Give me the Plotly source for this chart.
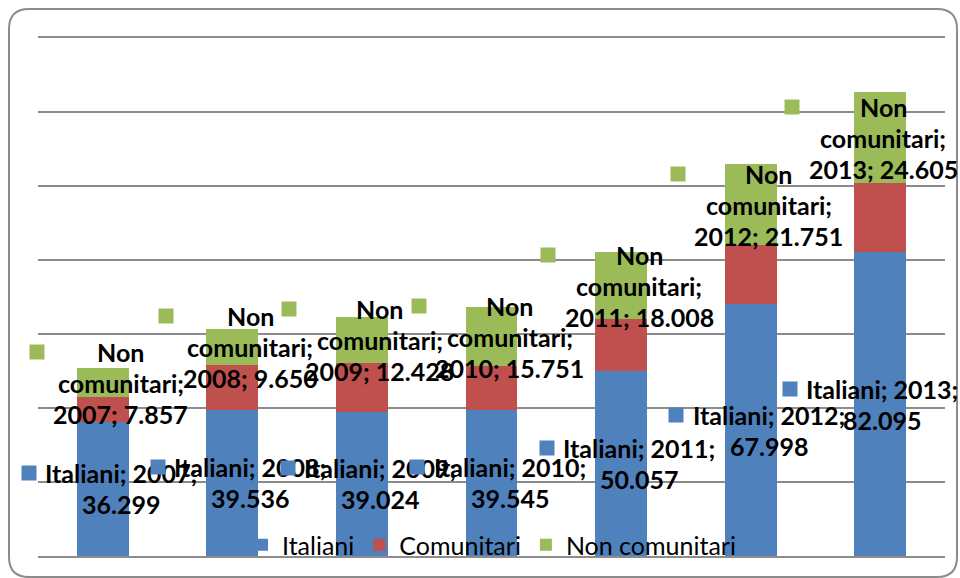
import plotly.graph_objects as go

# ---- data ----
years = ["2007", "2008", "2009", "2010", "2011", "2012", "2013"]
italiani = [36299, 39536, 39024, 39545, 50057, 67998, 82095]
comunitari = [6600, 12100, 13100, 11900, 14000, 16100, 18600]
non_comunitari = [7857, 9650, 12428, 15751, 18008, 21751, 24605]

series_names = ["Italiani", "Comunitari", "Non comunitari"]
colors = ["#4F81BD", "#C0504D", "#9BBB59"]

W, H = 960, 578
ML, MR, MT, MB = 38, 15, 38, 22
PW, PH = W - ML - MR, H - MT - MB

FONT = "Lato"
LBL_SIZE = 25
LINE = 31
GRID = "#8c8c8c"

fig = go.Figure()
for name, vals, col in zip(series_names, [italiani, comunitari, non_comunitari], colors):
    fig.add_trace(go.Bar(x=years, y=vals, name=name, marker=dict(color=col, line=dict(width=0)),
                         hoverinfo="skip"))

def fmt(v):
    return f"{v:,}".replace(",", ".")

cw = {c: 0.58 for c in "0123456789"}
cw.update({".": 0.25, ";": 0.27, " ": 0.2, "I": 0.29, "t": 0.37, "a": 0.51, "l": 0.25,
           "i": 0.25, "n": 0.57, "c": 0.47, "o": 0.57, "m": 0.86, "u": 0.57, "r": 0.39, "N": 0.74})

def text_w(s):
    return sum(cw.get(c, 0.55) for c in s) * LBL_SIZE * 0.94

annotations = []

def add_label(xi, ymid, lines, color):
    n = len(lines)
    w = max(text_w(l) for l in lines)
    center_px = ML + (xi + 0.5) * PW / len(years)
    xs = 18
    # keep the label inside the chart, as the original does
    xs = min(xs, W - 7 - w / 2 - center_px)
    for i, ln in enumerate(lines):
        annotations.append(dict(x=xi, y=ymid, xref="x", yref="y", text=f"<b>{ln}</b>",
                                showarrow=False, xshift=xs, yshift=(n - 1) / 2 * LINE - i * LINE,
                                font=dict(family=FONT, size=LBL_SIZE, color="black"),
                                xanchor="center", yanchor="middle"))
    annotations.append(dict(x=xi, y=ymid, xref="x", yref="y", text=" ", showarrow=False,
                            width=14, height=14, borderpad=0, bgcolor=color,
                            xshift=xs - w / 2 - 14 - 7, yshift=(n - 1) / 2 * LINE,
                            font=dict(size=4)))

for i, yr in enumerate(years):
    # category axis: annotation x is the category index
    add_label(i, italiani[i] / 2, [f"Italiani; {yr};", fmt(italiani[i])], colors[0])
    base = italiani[i] + comunitari[i]
    add_label(i, base + non_comunitari[i] / 2,
              ["Non", "comunitari;", f"{yr}; {fmt(non_comunitari[i])}"], colors[2])

# rounded border (pixel coords -> paper)
def px(xp):
    return (xp - ML) / PW

def py(yp):
    return (H - MB - yp) / PH

x0, y0, x1, y1, r = 9, 9, 957, 577, 20
path = (f"M{px(x0 + r)},{py(y0)} L{px(x1 - r)},{py(y0)} Q{px(x1)},{py(y0)} {px(x1)},{py(y0 + r)} "
        f"L{px(x1)},{py(y1 - r)} Q{px(x1)},{py(y1)} {px(x1 - r)},{py(y1)} "
        f"L{px(x0 + r)},{py(y1)} Q{px(x0)},{py(y1)} {px(x0)},{py(y1 - r)} "
        f"L{px(x0)},{py(y0 + r)} Q{px(x0)},{py(y0)} {px(x0 + r)},{py(y0)} Z")

fig.update_layout(
    width=W, height=H,
    margin=dict(l=ML, r=MR, t=MT, b=MB, pad=0, autoexpand=False),
    barmode="stack", bargap=0.6,
    plot_bgcolor="white", paper_bgcolor="white",
    font=dict(family=FONT),
    xaxis=dict(type="category", range=[-0.5, len(years) - 0.5], showticklabels=False,
               showgrid=False, zeroline=False, showline=True, mirror=True,
               linecolor=GRID, linewidth=2, ticks=""),
    yaxis=dict(range=[0, 140000], dtick=20000, showticklabels=False, showgrid=True,
               gridcolor=GRID, gridwidth=2, zeroline=False, showline=False, ticks=""),
    legend=dict(orientation="h", x=0.5, xanchor="center", y=(H - MB - 545) / PH, yanchor="middle",
                bgcolor="rgba(0,0,0,0)", font=dict(family=FONT, size=25, color="black"),
                itemwidth=30, traceorder="normal"),
    annotations=annotations,
    shapes=[dict(type="path", path=path, xref="paper", yref="paper",
                 line=dict(color=GRID, width=2), layer="above")],
)

fig.write_html("out.html", config={"displayModeBar": False},
               post_script="document.body.style.margin='0px';document.body.style.overflow='hidden';")
